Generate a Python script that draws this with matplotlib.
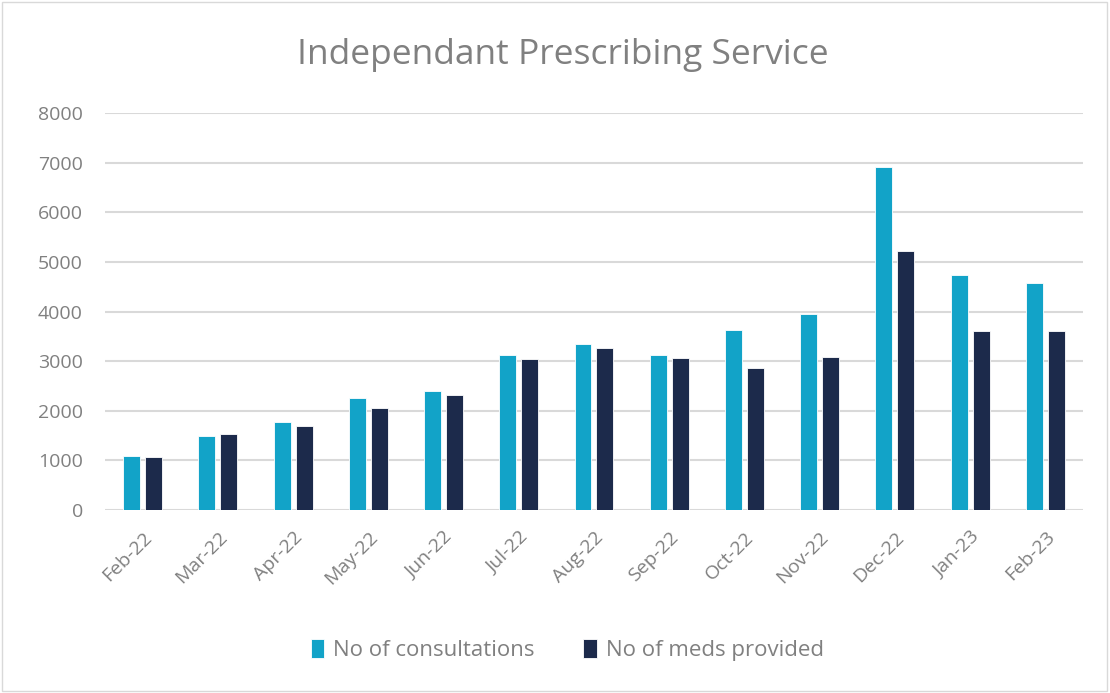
import matplotlib.pyplot as plt
import numpy as np
from matplotlib.patches import Rectangle

months = ["Feb-22", "Mar-22", "Apr-22", "May-22", "Jun-22", "Jul-22", "Aug-22",
          "Sep-22", "Oct-22", "Nov-22", "Dec-22", "Jan-23", "Feb-23"]
consultations = [1090, 1490, 1770, 2250, 2390, 3120, 3350, 3120, 3630, 3940, 6910, 4730, 4570]
meds_provided = [1060, 1525, 1690, 2050, 2310, 3040, 3260, 3070, 2870, 3090, 5210, 3610, 3610]

plt.rcParams['font.family'] = ['Open Sans', 'DejaVu Sans']

fig = plt.figure(figsize=(11.1, 6.93), dpi=100)
ax = fig.add_axes([0.0946, 0.264, 0.881, 0.573])

x = np.arange(len(months))
w = 0.225
ax.bar(x - 0.146, consultations, width=w, color="#12a3c8", edgecolor="white",
       linewidth=0.6, label="No of consultations", zorder=3)
ax.bar(x + 0.146, meds_provided, width=w, color="#1c2a4b", edgecolor="white",
       linewidth=0.6, label="No of meds provided", zorder=3)

ax.set_xlim(-0.5, len(months) - 0.5)
ax.set_ylim(0, 8000)
ax.set_yticks(range(0, 8001, 1000))
ax.yaxis.grid(True, color="#d9d9d9", linewidth=1.5, zorder=0)
ax.set_axisbelow(True)
for s in ["top", "right", "left", "bottom"]:
    ax.spines[s].set_visible(False)
ax.tick_params(axis="both", length=0, colors="#808080", labelsize=14)
ax.tick_params(axis="y", pad=16)
ax.tick_params(axis="x", pad=13)
ax.set_xticks(x)
ax.set_xticklabels(months, rotation=45, ha="right", rotation_mode="anchor")

fig.text(0.507, 0.921, "Independant Prescribing Service", ha="center", va="center",
         fontsize=25.5, color="#808080")

handles, labels = ax.get_legend_handles_labels()
fig.legend(handles, labels, loc="center", bbox_to_anchor=(0.511, 0.062), ncol=2,
           frameon=False, fontsize=16, handlelength=0.6, handleheight=0.9,
           handletextpad=0.4, columnspacing=2.2, labelcolor="#808080")

fig.patches.append(Rectangle((0.002, 0.003), 0.995, 0.994, transform=fig.transFigure,
                             fill=False, edgecolor="#d9d9d9", linewidth=1))

fig.savefig("out.png", dpi=100, facecolor="white")
